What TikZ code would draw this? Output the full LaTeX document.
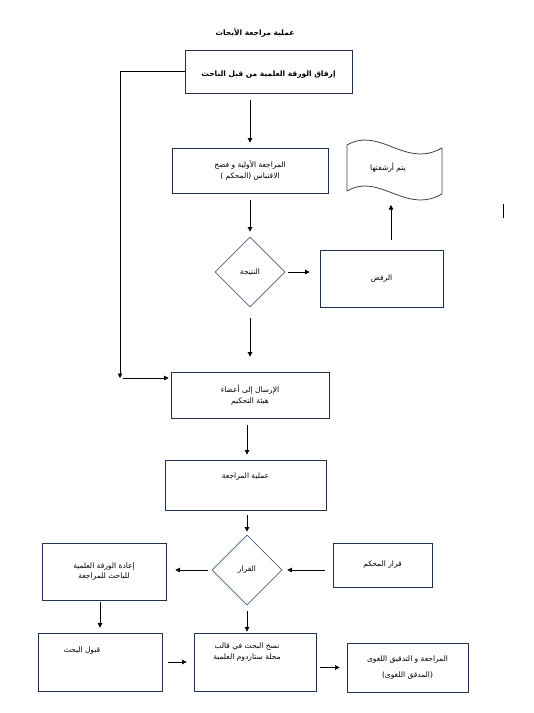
\documentclass[tikz,border=0pt]{standalone}
\usepackage{fontspec}
\usepackage{xcolor}
\usetikzlibrary{shapes.geometric,arrows.meta}
\TeXXeTstate=1
\newfontfamily\arabicfont[Script=Arabic]{DejaVu Sans}
\definecolor{boxline}{HTML}{1F3251}
\definecolor{diamline}{HTML}{4A5F80}
\definecolor{waveline}{HTML}{404040}
\definecolor{ink}{HTML}{000000}
\tikzset{
  box/.style={draw=boxline, line width=0.8pt, inner sep=2pt, align=center, font=\arabicfont\fontsize{7.5}{10.5}\selectfont},
  dia/.style={diamond, draw=diamline, line width=0.8pt, minimum width=70pt, minimum height=70pt, inner sep=0pt, font=\arabicfont\fontsize{7.5}{10.5}\selectfont},
  lab/.style={text=ink, font=\arabicfont\fontsize{7.5}{10.5}\selectfont, inner sep=0pt, align=center},
  labb/.style={lab, font=\arabicfont\fontsize{7.5}{10.5}\selectfont\bfseries},
  arr/.style={draw=ink, line width=0.7pt, -{Triangle[length=4.5pt,width=4.5pt]}},
  wave/.style={draw=waveline, line width=0.8pt, line join=round}
}

\begin{document}
\begin{tikzpicture}[x=1pt,y=-1pt]
  \useasboundingbox (0,0) rectangle (534,713);
  % title
  \node[labb] (title) at (255,33) {\beginR عملية مراجعة الأبحاث\endR};
  % main column
  \node[box, minimum width=167pt, minimum height=43pt,
    label={[labb,yshift=-3pt]center:\beginR إرفاق الورقة العلمية من قبل الباحث\endR}] (attach) at (268.5,71.5) {};
  \node[box, minimum width=156pt, minimum height=45pt] (prelim) at (250,170.5) {\beginR المراجعة الأولية و فصح\endR\\\beginR الاقتباس (المحكم )\endR};
  \node[dia] (result) at (250,272) {\beginR النتيجة\endR};
  \node[box, minimum width=123pt, minimum height=57pt] (reject) at (381.5,278.5) {\beginR الرفض\endR};
  % archive (wavy)
  \draw[wave] (347,145) .. controls (380,126) and (405,169) .. (442,148)
    -- (442,194) .. controls (405,215) and (380,172) .. (347,191) -- cycle;
  \node[lab] (archive) at (388,168) {\beginR يتم أرشفتها\endR};
  \coordinate (archB) at (391,193);
  \node[box, minimum width=158pt, minimum height=46pt] (send) at (250,395) {\beginR الإرسال إلى أعضاء\endR\\\beginR هيئة التحكيم\endR};
  \node[box, minimum width=161pt, minimum height=50pt,
    label={[lab,anchor=north,yshift=-13pt]north:\beginR عملية المراجعة\endR}] (review) at (245.5,485) {};
  \node[dia] (decide) at (247,570) {\beginR القرار\endR};
  \node[box, minimum width=124pt, minimum height=57pt] (returnp) at (104,571.5) {\beginR إعادة الورقة العلمية\endR\\\beginR للباحث للمراجعة\endR};
  \node[box, minimum width=99pt, minimum height=44pt] (referee) at (382.5,565) {\beginR قرار المحكم\endR};
  \node[box, minimum width=124pt, minimum height=58pt,
    label={[lab,anchor=north,yshift=-14pt,xshift=-18pt]north:\beginR قبول البحث\endR}] (accept) at (100,662) {};
  \node[box, minimum width=122pt, minimum height=58pt,
    label={[lab,anchor=north,yshift=-10pt,xshift=-8pt]north:\beginR نسخ البحث في قالب\endR\\\beginR مجلة ستاردوم العلمية\endR}] (layout) at (255,662) {};
  \node[box, minimum width=121pt, minimum height=49pt] (proof) at (407.5,667.5) {\beginR المراجعة و التدقيق اللغوى\endR\\[6pt]\beginR (المدقق اللغوى)\endR};
  \coordinate (bend) at (120,378);
  % connectors
  \draw[arr, shorten <=7pt, shorten >=5pt] (attach.south -| prelim.north) -- (prelim.north);
  \draw[arr, shorten <=7pt, shorten >=5pt] (prelim.south) -- (result.north);
  \draw[arr, shorten <=3pt, shorten >=10pt] (result.east) -- (result.east -| reject.west);
  \draw[arr, shorten <=10pt, shorten >=12pt] (reject.north -| archB) -- (archB);
  \draw[arr, shorten <=11pt, shorten >=15pt] (result.south) -- (send.north);
  \draw[arr] (attach.west) -| (bend);
  \draw[arr, shorten <=3pt, shorten >=2pt] (bend) -- (bend -| send.west);
  \draw[arr, shorten <=7pt, shorten >=5pt] (send.south -| decide.north) -- (review.north -| decide.north);
  \draw[arr, shorten <=5pt, shorten >=3pt] (review.south -| decide.north) -- (decide.north);
  \draw[arr, shorten <=4pt, shorten >=9pt] (decide.west) -- (decide.west -| returnp.east);
  \draw[arr, shorten <=8pt, shorten >=5pt] (referee.west |- decide.east) -- (decide.east);
  \draw[arr, shorten <=2pt, shorten >=5pt] (returnp.south -| accept.north) -- (accept.north);
  \draw[arr, shorten <=6pt, shorten >=7pt] (accept.east) -- (accept.east -| layout.west);
  \draw[arr, shorten <=6pt, shorten >=1pt] (decide.south) -- (decide.south |- layout.north);
  \draw[arr, shorten <=4pt, shorten >=7pt] (layout.east |- proof.west) -- (proof.west);
  % stray cursor mark
  \draw[draw=ink, line width=0.8pt] (503,204) -- (503,218);
\end{tikzpicture}
\end{document}
